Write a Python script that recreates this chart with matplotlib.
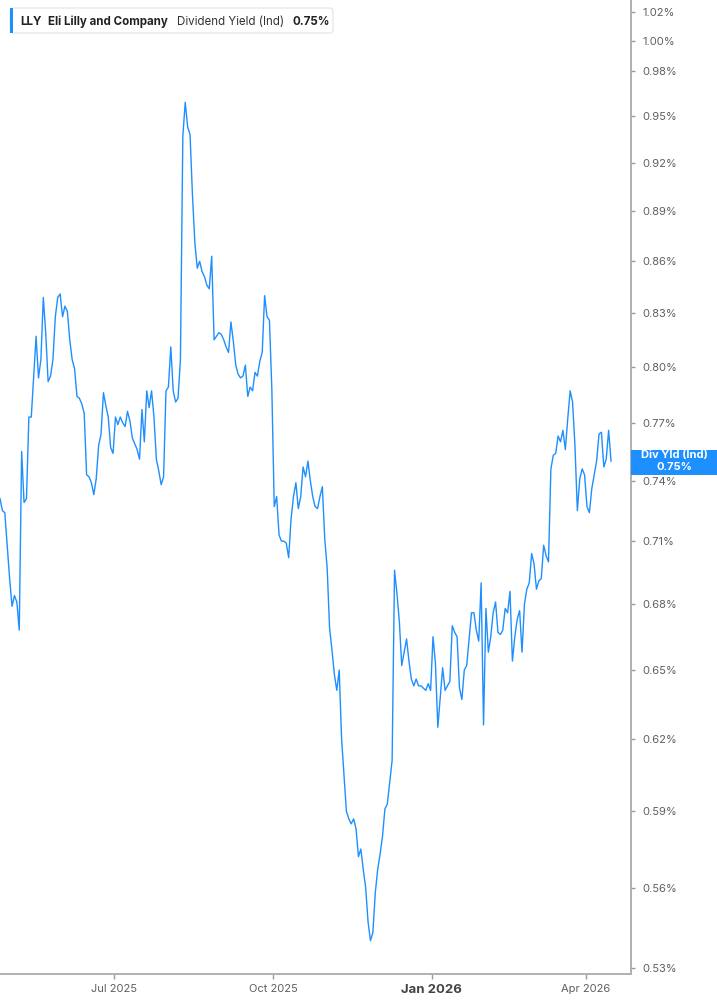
import matplotlib
matplotlib.use("Agg")
import matplotlib.pyplot as plt
from matplotlib.patches import FancyBboxPatch, Rectangle
from matplotlib.ticker import FixedLocator, FuncFormatter, NullLocator
import numpy as np
import pandas as pd

plt.rcParams['font.family'] = ['Inter', 'Liberation Sans', 'DejaVu Sans']

# ---------------- data ----------------
ticker = "LLY"
company = "Eli Lilly and Company"
metric = "Dividend Yield (Ind)"
last_label = "0.75%"
price_tag = "Div Yld (Ind)"

yield_pct = [
    0.731, 0.725, 0.724, 0.708, 0.692, 0.679, 0.684, 0.681, 0.668, 0.755,
    0.729, 0.731, 0.773, 0.773, 0.795, 0.817, 0.794, 0.804, 0.839, 0.819,
    0.792, 0.795, 0.804, 0.828, 0.839, 0.841, 0.828, 0.834, 0.831, 0.815,
    0.804, 0.799, 0.784, 0.783, 0.780, 0.775, 0.743, 0.742, 0.739, 0.733,
    0.741, 0.758, 0.764, 0.786, 0.779, 0.773, 0.757, 0.754, 0.773, 0.769,
    0.773, 0.770, 0.768, 0.776, 0.771, 0.762, 0.759, 0.756, 0.751, 0.777,
    0.760, 0.787, 0.778, 0.787, 0.773, 0.751, 0.745, 0.738, 0.742, 0.787,
    0.789, 0.811, 0.787, 0.781, 0.783, 0.804, 0.937, 0.959, 0.943, 0.938,
    0.900, 0.871, 0.856, 0.860, 0.854, 0.851, 0.846, 0.844, 0.863, 0.815,
    0.817, 0.819, 0.818, 0.815, 0.811, 0.808, 0.825, 0.814, 0.801, 0.796,
    0.794, 0.795, 0.801, 0.784, 0.789, 0.787, 0.797, 0.795, 0.803, 0.808,
    0.840, 0.828, 0.826, 0.788, 0.727, 0.732, 0.713, 0.710, 0.710, 0.709,
    0.702, 0.721, 0.732, 0.739, 0.726, 0.732, 0.747, 0.742, 0.750, 0.740,
    0.732, 0.727, 0.726, 0.732, 0.737, 0.711, 0.697, 0.669, 0.659, 0.648,
    0.641, 0.650, 0.620, 0.605, 0.590, 0.587, 0.585, 0.587, 0.583, 0.572,
    0.575, 0.567, 0.560, 0.547, 0.540, 0.543, 0.558, 0.567, 0.573, 0.580,
    0.591, 0.593, 0.602, 0.611, 0.696, 0.685, 0.672, 0.652, 0.658, 0.664,
    0.654, 0.646, 0.643, 0.646, 0.643, 0.643, 0.642, 0.641, 0.644, 0.641,
    0.665, 0.653, 0.625, 0.638, 0.651, 0.641, 0.643, 0.645, 0.670, 0.667,
    0.665, 0.642, 0.637, 0.650, 0.652, 0.664, 0.676, 0.676, 0.668, 0.663,
    0.690, 0.626, 0.678, 0.658, 0.665, 0.676, 0.681, 0.667, 0.666, 0.668,
    0.678, 0.676, 0.686, 0.654, 0.665, 0.673, 0.677, 0.658, 0.680, 0.687,
    0.690, 0.704, 0.699, 0.687, 0.691, 0.692, 0.708, 0.703, 0.700, 0.746,
    0.753, 0.754, 0.763, 0.760, 0.766, 0.756, 0.772, 0.787, 0.781, 0.758,
    0.725, 0.741, 0.746, 0.743, 0.727, 0.724, 0.736, 0.743, 0.750, 0.764,
    0.765, 0.747, 0.751, 0.766, 0.750,
]
last_date = "2026-04-16"
dates = pd.bdate_range(end=last_date, periods=len(yield_pct))
last_value = 0.75

y_ticks = [0.53, 0.56, 0.59, 0.62, 0.65, 0.68, 0.71, 0.74, 0.77, 0.80,
           0.83, 0.86, 0.89, 0.92, 0.95, 0.98, 1.00, 1.02]
x_tick_dates = ["2025-07-01", "2025-10-01", "2026-01-01", "2026-04-01"]
x_tick_labels = ["Jul 2025", "Oct 2025", "Jan 2026", "Apr 2026"]
bold_tick = "Jan 2026"

# ---------------- figure ----------------
W, H = 717, 1005
DPI = 100
fig = plt.figure(figsize=(W / DPI, H / DPI), dpi=DPI)
fig.patch.set_facecolor("white")

def fx(px):
    return px / W

def fy(py):  # image y (top-down) -> figure fraction
    return 1 - py / H

ax_right = 631
ax_bottom = 973.5
ax = fig.add_axes([0, fy(ax_bottom), fx(ax_right), 1 - fy(ax_bottom)])
ax.set_facecolor("white")

LINE = "#1E8FFF"
# trading-day axis (no weekend gaps), like the original chart
idx = np.arange(len(dates))
ax.plot(idx, yield_pct, color=LINE, lw=1.0, solid_joinstyle="round")

ax.set_yscale("log")
ax.set_ylim(0.528, 1.0286)
ax.set_xlim(0, len(dates) - 1 + 8.3)

for s in ("left", "top"):
    ax.spines[s].set_visible(False)
for s in ("right", "bottom"):
    ax.spines[s].set_color("#b0b0b0")
    ax.spines[s].set_linewidth(1.4)

ax.yaxis.tick_right()
ax.yaxis.set_major_locator(FixedLocator(y_ticks))
ax.yaxis.set_minor_locator(NullLocator())
ax.yaxis.set_major_formatter(FuncFormatter(lambda v, p: f"{v:.2f}%"))
ax.tick_params(axis="y", which="major", length=3, width=1, color="#9a9a9a",
               pad=5, labelsize=8, labelcolor="#5f5f5f")

xt = dates.searchsorted([pd.Timestamp(d) for d in x_tick_dates])
ax.set_xticks(xt + 0.5)
ax.set_xticklabels(x_tick_labels)
ax.tick_params(axis="x", length=3.5, width=1, color="#9a9a9a", pad=4,
               labelsize=8, labelcolor="#5f5f5f")
for lab in ax.get_xticklabels():
    if lab.get_text() == bold_tick:
        lab.set_fontweight("bold")
        lab.set_fontsize(9.5)
        lab.set_color("#444444")

# ---------------- legend box (top-left) ----------------
box = FancyBboxPatch((fx(10), fy(33)), fx(323), 25 / H,
                     boxstyle="round,pad=0,rounding_size=0.004",
                     transform=fig.transFigure, facecolor="white",
                     edgecolor="#e3e3e3", linewidth=0.8, zorder=5)
fig.add_artist(box)
bar = Rectangle((fx(10), fy(33)), fx(3), 25 / H, transform=fig.transFigure,
                facecolor=LINE, edgecolor="none", zorder=6)
fig.add_artist(bar)

leg_y = fy(25)
LS = 8.3
fig.text(fx(20.5), leg_y, ticker, fontsize=LS, fontweight="bold",
         color="#222222", va="baseline", zorder=7)
fig.text(fx(48.5), leg_y, company, fontsize=LS, fontweight="bold",
         color="#222222", va="baseline", zorder=7)
fig.text(fx(177.3), leg_y, metric, fontsize=LS, color="#333333",
         va="baseline", zorder=7)
fig.text(fx(292.3), leg_y, last_label, fontsize=LS, fontweight="bold",
         color="#222222", va="baseline", zorder=7)

# ---------------- last value tag on right axis ----------------
yc_disp = ax.transData.transform((idx[-1], last_value))[1]
yc_img = H - yc_disp
tag = Rectangle((fx(ax_right), fy(yc_img + 13.5)), fx(W - ax_right), 25 / H,
                transform=fig.transFigure, facecolor=LINE, edgecolor="none",
                zorder=8, clip_on=False)
fig.add_artist(tag)
fig.text(fx(674), fy(yc_img - 6), price_tag, fontsize=8, fontweight="bold",
         color="white", ha="center", va="center", zorder=9)
fig.text(fx(674), fy(yc_img + 5.5), f"{last_value:.2f}%", fontsize=8,
         fontweight="bold", color="white", ha="center", va="center", zorder=9)

fig.savefig("out.png", dpi=DPI, facecolor="white")
